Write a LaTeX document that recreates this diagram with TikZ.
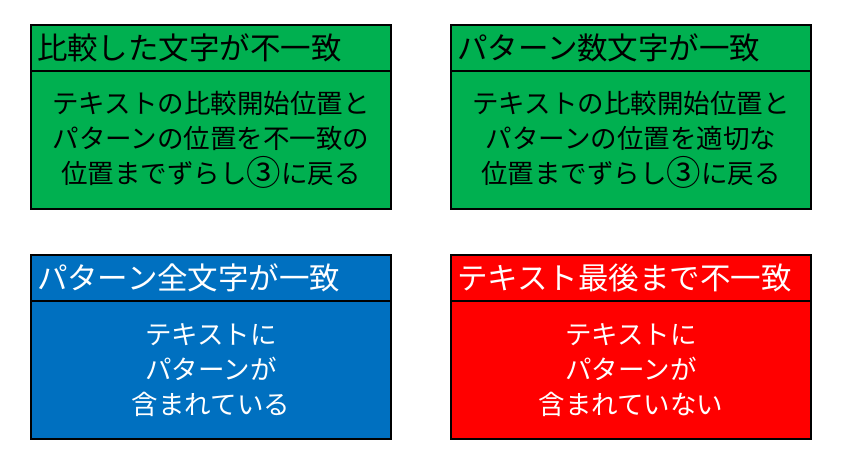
\documentclass[tikz,border=0pt]{standalone}
\usepackage{fontspec}
\newfontfamily\jpfont{Noto Sans CJK JP}
\usetikzlibrary{positioning}
\definecolor{okgreen}{RGB}{0,176,80}
\definecolor{hitblue}{RGB}{0,112,192}
\definecolor{missred}{RGB}{255,0,0}
\newcommand{\stepthree}{\raisebox{-0.08em}{\scalebox{1.3}{③}}}
\begin{document}
\begin{tikzpicture}[x=1pt,y=1pt]
                \tikzstyle{every node}+=[outer sep=0pt]
                \tikzstyle{head}=[draw=black, line width=1.5pt, minimum width=360pt, minimum height=46pt, inner xsep=6pt, inner ysep=0pt, text width=348pt, align=left, font=\jpfont\fontsize{30.5}{32}\selectfont]
                \tikzstyle{body}=[draw=black, line width=1.5pt, minimum width=360pt, minimum height=138pt, inner sep=0pt, align=center, font=\jpfont\fontsize{26.5}{35}\selectfont]
                \useasboundingbox (0,0) rectangle (844,464);
                \node [head, fill=okgreen] (mismatch) at (211,416) {比較した文字が不一致};
                \node [body, fill=okgreen, below=0pt of mismatch] (mismatchbody) {テキストの比較開始位置と\\パターンの位置を不一致の\\位置までずらし\stepthree に戻る};
                \node [head, fill=okgreen] (count) at (631,416) {パターン数文字が一致};
                \node [body, fill=okgreen, below=0pt of count] (countbody) {テキストの比較開始位置と\\パターンの位置を適切な\\位置までずらし\stepthree に戻る};
                \node [head, fill=hitblue, text=white] (found) at (211,186) {パターン全文字が一致};
                \node [body, fill=hitblue, text=white, below=0pt of found] (foundbody) {テキストに\\パターンが\\含まれている};
                \node [head, fill=missred, text=white] (notfound) at (631,186) {テキスト最後まで不一致};
                \node [body, fill=missred, text=white, below=0pt of notfound] (notfoundbody) {テキストに\\パターンが\\含まれていない};
            \end{tikzpicture}
\end{document}
